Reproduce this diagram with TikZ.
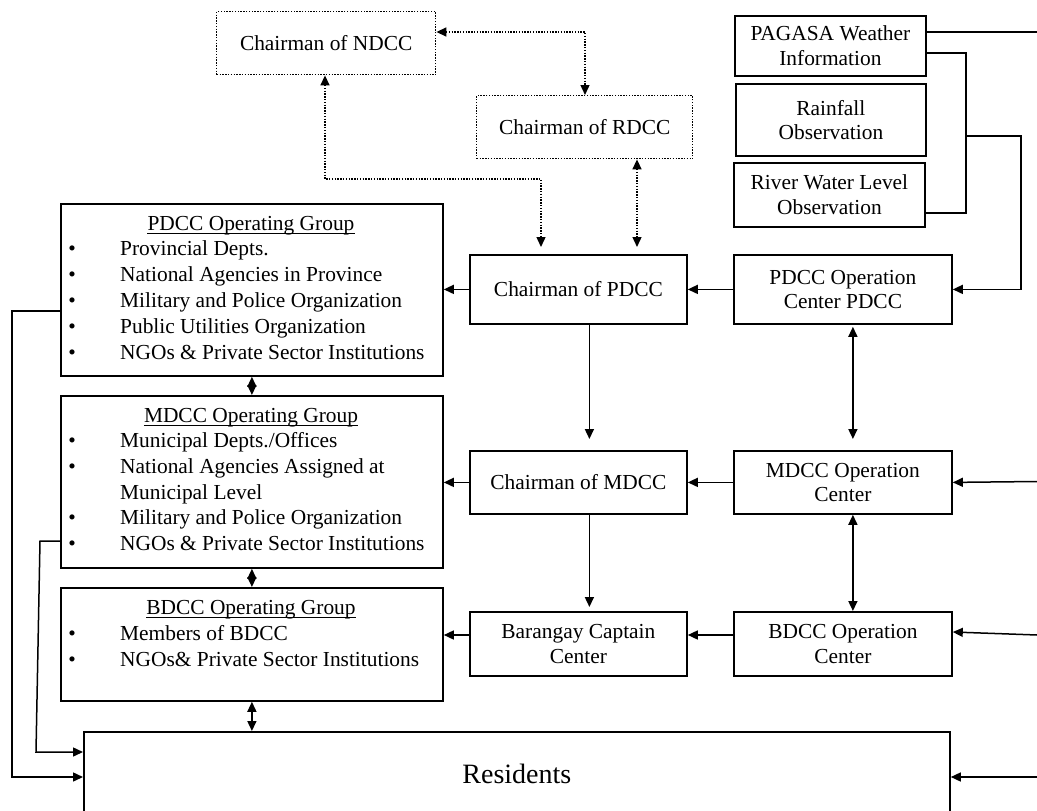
\documentclass[tikz,border=0pt]{standalone}
\usepackage{fontspec}
\setmainfont{Liberation Serif}
\usetikzlibrary{arrows.meta,calc}
\newcommand\myfs{\fontsize{21.4}{24.5}\selectfont}
\begin{document}
\begin{tikzpicture}[x=1pt,y=-1pt,
  box/.style={draw, line width=1.8pt, anchor=north west, inner sep=0pt, align=center, font=\myfs},
  dbox/.style={box, line width=1.4pt, dash pattern=on 1.4pt off 1.4pt},
  tip/.tip={Triangle[length=10pt,width=9pt]},
  arr/.style={line width=1.5pt, -tip},
  darr/.style={line width=1.5pt, tip-tip},
  dotarr/.style={line width=1.4pt, dash pattern=on 1.4pt off 1.4pt, tip-tip},
  ln/.style={line width=1.5pt},
  txt/.style={font=\myfs, inner sep=0pt, anchor=base west},
  ttl/.style={font=\myfs, inner sep=0pt, anchor=base},
  bul/.style={font=\myfs, inner sep=0pt, anchor=base}
]
\useasboundingbox (0,0) rectangle (1037,811);
\clip (0,0) rectangle (1037,811);

% top dotted boxes
\node[dbox, minimum width=219pt, minimum height=63pt] (ndcc) at (216,11) {Chairman of NDCC};
\node[dbox, minimum width=216pt, minimum height=63pt] (rdcc) at (476,95) {Chairman of RDCC};

% information boxes
\node[box, minimum width=191pt, minimum height=60pt] (pag) at (734,15) {PAGASA Weather\\Information};
\node[box, minimum width=190pt, minimum height=72pt] (rain) at (735,83) {Rainfall\\Observation};
\node[box, minimum width=191pt, minimum height=64pt] (river) at (733,162) {River Water Level\\Observation};

% chairman / operation centre boxes
\node[box, minimum width=217pt, minimum height=69pt] (cp) at (469,254) {Chairman of PDCC};
\node[box, minimum width=218pt, minimum height=69pt] (op) at (733,254) {PDCC Operation\\Center PDCC};
\node[box, minimum width=217pt, minimum height=63pt] (cm) at (469,450) {Chairman of MDCC};
\node[box, minimum width=218pt, minimum height=63pt] (om) at (733,450) {MDCC Operation\\Center};
\node[box, minimum width=217pt, minimum height=64pt] (bc) at (469,611) {Barangay Captain\\Center};
\node[box, minimum width=218pt, minimum height=64pt] (ob) at (733,611) {BDCC Operation\\Center};

% operating group boxes
\node[box, minimum width=382pt, minimum height=172pt] (gp) at (60,203) {};
\node[box, minimum width=382pt, minimum height=172pt] (gm) at (60,395) {};
\node[box, minimum width=382pt, minimum height=113pt] (gb) at (60,587) {};

% residents
\node[box, minimum width=866pt, minimum height=84pt, font=\fontsize{28}{32}\selectfont] (res) at (83,731) {Residents};

% group texts
\node[ttl] (gpt) at (251,230) {PDCC Operating Group};
\draw[line width=0.9pt] ([yshift=-3pt]gpt.base west) -- ([yshift=-3pt]gpt.base east);
\foreach \t [count=\i] in {Provincial Depts., National Agencies in Province, Military and Police Organization, Public Utilities Organization, NGOs \& Private Sector Institutions}{
  \node[bul] (gpb\i) at (72,229+26*\i) {•};
  \node[txt] (gpi\i) at (120,229+26*\i) {\t};
}
\node[ttl] (gmt) at (251,422) {MDCC Operating Group};
\draw[line width=0.9pt] ([yshift=-3pt]gmt.base west) -- ([yshift=-3pt]gmt.base east);
\node[bul] (gmb1) at (72,447) {•};
\node[txt] (gmi1) at (120,447) {Municipal Depts./Offices};
\node[bul] (gmb2) at (72,473) {•};
\node[txt] (gmi2) at (120,473) {National Agencies Assigned at};
\node[txt] (gmi2b) at (120,499) {Municipal Level};
\node[bul] (gmb3) at (72,524) {•};
\node[txt] (gmi3) at (120,524) {Military and Police Organization};
\node[bul] (gmb4) at (72,550) {•};
\node[txt] (gmi4) at (120,550) {NGOs \& Private Sector Institutions};

\node[ttl] (gbt) at (251,614) {BDCC Operating Group};
\draw[line width=0.9pt] ([yshift=-3pt]gbt.base west) -- ([yshift=-3pt]gbt.base east);
\node[bul] (gbb1) at (72,640) {•};
\node[txt] (gbi1) at (120,640) {Members of BDCC};
\node[bul] (gbb2) at (72,666) {•};
\node[txt] (gbi2) at (120,666) {NGOs\& Private Sector Institutions};

% dotted connectors
\coordinate (k1) at (585,32);
\draw[dotarr] (ndcc.east |- k1) -- (k1) -- (k1 |- rdcc.north);
\coordinate (k2) at (325,179);
\coordinate (k3) at (541,179);
\draw[dotarr, shorten >=7pt] (k2 |- ndcc.south) -- (k2) -- (k3) -- (k3 |- cp.north);
\coordinate (k4) at (637,200);
\draw[dotarr, shorten >=7pt] (k4 |- rdcc.south) -- (k4 |- cp.north);

% information lines
\coordinate (e1) at (1037,32);
\draw[ln] (pag.east |- e1) -- (e1);
\coordinate (b1) at (966,53);
\coordinate (b2) at (966,213);
\draw[ln] (pag.east |- b1) -- (b1) -- (b2) -- (river.east |- b2);
\coordinate (b3) at (966,136);
\coordinate (b4) at (1021,136);
\draw[arr] (b3) -- (b4) -- (b4 |- op.east) -- (op.east);

% horizontal flows
\draw[arr] (op.west) -- (cp.east);
\draw[arr] (cp.west) -- (cp.west -| gp.east);
\draw[arr] (om.west) -- (cm.east);
\draw[arr] (cm.west) -- (cm.west -| gm.east);
\coordinate (rowb) at (0,635);
\draw[arr] (ob.west |- rowb) -- (bc.east |- rowb);
\draw[arr] (bc.west |- rowb) -- (gb.east |- rowb);

% from the right edge
\coordinate (rm) at (1037,481.5);
\draw[arr] (rm) -- (om.east);
\coordinate (rb) at (1037,635);
\coordinate (rb2) at (0,632);
\draw[arr] (rb) -- (ob.east |- rb2);
\coordinate (rr) at (1037,777);
\draw[arr] (rr) -- (res.east |- rr);

% vertical flows
\draw[arr, shorten >=11pt] ([xshift=11pt]cp.south) -- ([xshift=11pt]cm.north);
\draw[arr, shorten >=4pt] ([xshift=11pt]cm.south) -- ([xshift=11pt]bc.north);
\draw[darr, shorten <=2pt, shorten >=11pt] ([xshift=10pt]op.south) -- ([xshift=10pt]om.north);
\draw[darr] ([xshift=10pt]om.south) -- ([xshift=10pt]ob.north);

% between groups
\draw[darr] (gp.south) -- (gm.north);
\draw[darr] (gm.south) -- (gb.north);
\draw[darr] (gb.south) -- (gb.south |- res.north);

% left lines to residents
\coordinate (l1) at (12,311);
\coordinate (l2) at (12,777);
\draw[arr] (gp.west |- l1) -- (l1) -- (l2) -- (res.west |- l2);
\coordinate (m1) at (40,541);
\coordinate (m2) at (36,752);
\draw[arr] (gm.west |- m1) -- (m1) -- (m2) -- (res.west |- m2);
\end{tikzpicture}
\end{document}
